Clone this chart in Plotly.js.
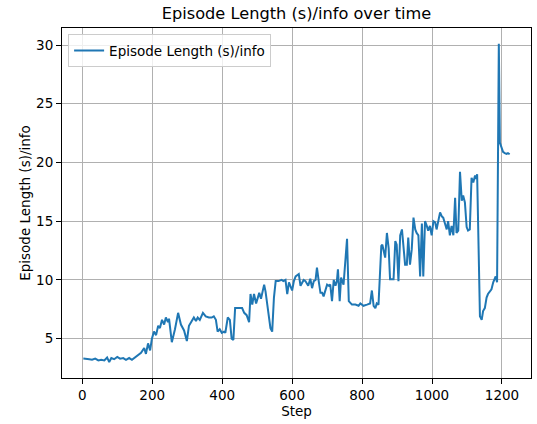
<!DOCTYPE html>
<html>
<head>
<meta charset="utf-8">
<script src="https://cdn.plot.ly/plotly-3.0.1.min.js"></script>
<style>html,body{margin:0;padding:0;background:#fff;}#chart{width:537px;height:424px;}</style>
</head>
<body>
<div id="chart"></div>
<script>
const seriesName = "Episode Length (s)/info";
const steps = [3,11,20,28,37,46,54,63,71,77,83,91,100,108,117,125,134,142,151,160,168,177,182,188,194,199,205,211,217,222,228,234,239,245,248,256,265,274,282,291,299,305,311,319,325,330,336,345,353,362,370,376,382,387,393,399,405,409,416,422,427,432,437,447,457,463,470,477,481,486,491,497,506,511,520,524,530,538,543,548,553,561,570,575,581,586,591,600,605,610,619,624,633,638,646,652,657,662,667,671,676,681,686,690,700,705,709,714,719,724,728,731,736,740,747,752,757,762,771,781,790,795,804,814,823,828,833,838,842,847,855,858,866,871,876,880,890,895,899,904,909,914,923,928,932,937,942,947,952,956,961,966,971,975,980,985,989,994,999,1004,1009,1013,1018,1023,1028,1032,1037,1042,1046,1051,1056,1061,1066,1070,1075,1080,1085,1089,1094,1099,1103,1108,1113,1118,1123,1125,1129,1137,1142,1146,1151,1156,1160,1165,1170,1175,1179,1182,1186,1191,1194,1199,1203,1208,1213,1217,1222];
const values = [3.3,3.3,3.25,3.2,3.3,3.15,3.2,3.15,3.4,3.0,3.35,3.25,3.45,3.3,3.35,3.2,3.35,3.2,3.4,3.6,3.8,4.2,3.7,4.6,4.0,5.0,5.6,5.3,6.1,5.9,6.6,6.2,6.8,6.4,6.7,4.7,5.8,7.2,6.2,5.7,4.8,6.1,6.4,6.8,6.5,6.8,6.6,7.2,6.9,6.8,6.8,6.9,6.6,5.6,5.8,5.5,5.6,5.5,6.8,6.6,5.0,4.9,7.6,7.6,7.6,7.2,7.0,6.4,8.8,7.9,8.8,8.0,8.9,8.4,9.6,9.0,7.6,5.9,5.6,8.5,9.9,9.9,10.0,9.9,10.0,8.8,9.8,9.1,9.9,10.3,10.5,9.5,10.0,9.9,9.5,10.1,9.3,9.9,10.0,11.05,9.9,8.9,8.9,8.6,9.6,9.5,9.6,8.2,10.0,9.5,9.9,10.9,8.2,10.2,9.6,11.5,13.5,8.2,7.9,7.9,7.8,8.0,7.8,7.9,8.0,9.1,7.8,7.6,8.0,7.9,12.9,13.0,11.9,14.0,12.7,10.05,10.05,13.3,13.0,9.9,13.8,14.3,11.3,11.3,13.6,11.3,12.6,15.3,14.3,14.0,13.8,10.3,14.8,10.3,15.0,14.6,14.2,14.6,13.8,15.0,14.9,14.3,15.1,15.75,15.4,15.3,14.8,14.3,15.0,13.8,14.6,13.8,17.0,14.0,14.2,19.2,16.75,17.2,16.6,14.5,14.2,14.3,18.7,18.3,18.9,18.6,19.0,6.9,6.6,7.35,7.6,8.5,8.8,9.06,9.2,9.8,10.2,10.3,9.8,30.1,21.7,21.2,20.9,20.8,20.74,20.8,20.7];
const xTicks = [0,200,400,600,800,1000,1200];
const yTicks = [5,10,15,20,25,30];

const font = "DejaVu Sans, Liberation Sans, sans-serif";
const fs = 13.5;
const trace = {
  x: steps, y: values, type: "scatter", mode: "lines", name: seriesName,
  line: {color: "#1f77b4", width: 2}
};
const axisCommon = {
  showgrid: true, gridcolor: "#b0b0b0", gridwidth: 1,
  showline: true, mirror: true, linecolor: "#000", linewidth: 1,
  ticks: "outside", ticklen: 5, tickcolor: "#000", tickwidth: 1,
  zeroline: false, tickfont: {family: font, size: fs, color: "#000"}
};
const layout = {
  width: 537, height: 424,
  margin: {l: 62, r: 6, t: 28, b: 46},
  paper_bgcolor: "#fff", plot_bgcolor: "#fff",
  font: {family: font, color: "#000"},
  title: {text: "Episode Length (s)/info over time", font: {family: font, size: 16.2, color: "#000"},
          x: 0.5, xref: "paper", xanchor: "center", y: 0.969, yref: "container", yanchor: "middle"},
  xaxis: Object.assign({}, axisCommon, {
    range: [-58, 1283], tickvals: xTicks, ticktext: xTicks.map(String),
    title: {text: "Step", font: {family: font, size: fs, color: "#000"}, standoff: 3}
  }),
  yaxis: Object.assign({}, axisCommon, {
    range: [1.65, 31.45], tickvals: yTicks, ticktext: yTicks.map(String),
    title: {text: "Episode Length (s)/info", font: {family: font, size: fs, color: "#000"}, standoff: 2}
  }),
  showlegend: true,
  legend: {x: 0.013, y: 0.982, xanchor: "left", yanchor: "top", bgcolor: "rgba(255,255,255,0.8)",
           bordercolor: "#cccccc", borderwidth: 1, font: {family: font, size: fs, color: "#000"}}
};
Plotly.newPlot("chart", [trace], layout, {displayModeBar: false, staticPlot: true});
</script>
</body>
</html>
